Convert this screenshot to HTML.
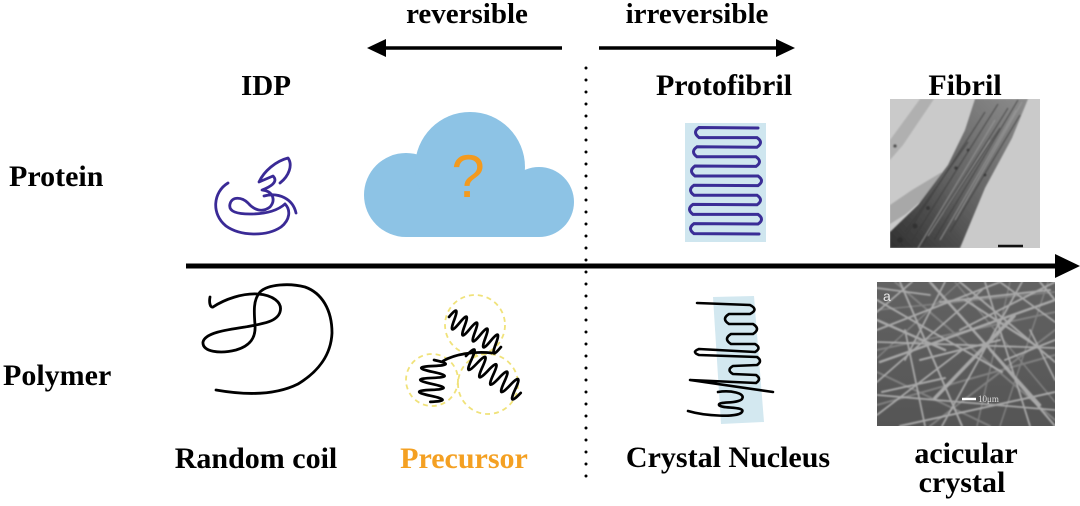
<!DOCTYPE html>
<html>
<head>
<meta charset="utf-8">
<style>
  html,body{margin:0;padding:0;background:#fff;}
  body{width:1080px;height:506px;overflow:hidden;}
  svg{display:block;}
  .t{font-family:"Liberation Serif",serif;font-weight:bold;fill:#000;}
</style>
</head>
<body>
<svg width="1080" height="506" viewBox="0 0 1080 506" xmlns="http://www.w3.org/2000/svg">
  <defs>
    <linearGradient id="fg" x1="0" y1="1" x2="1" y2="0">
      <stop offset="0" stop-color="#303030"/>
      <stop offset="0.45" stop-color="#626262"/>
      <stop offset="1" stop-color="#8c8c8c"/>
    </linearGradient>
    <linearGradient id="sg" x1="0" y1="0" x2="0" y2="1">
      <stop offset="0" stop-color="#626262"/>
      <stop offset="1" stop-color="#555555"/>
    </linearGradient>
    <filter id="soft" x="-5%" y="-5%" width="110%" height="110%">
      <feGaussianBlur stdDeviation="0.7"/>
    </filter>
    <clipPath id="semclip"><rect x="877" y="282" width="178" height="144"/></clipPath>
    <clipPath id="fibclip"><rect x="890" y="99" width="150" height="149"/></clipPath>
  </defs>
  <rect width="1080" height="506" fill="#fff"/>

  <!-- top arrows -->
  <text class="t" x="467" y="23" font-size="29" text-anchor="middle">reversible</text>
  <text class="t" x="697" y="23" font-size="29" text-anchor="middle">irreversible</text>
  <line x1="384" y1="48" x2="562" y2="48" stroke="#000" stroke-width="3.5"/>
  <polygon points="367,48 386,39 386,57" fill="#000"/>
  <line x1="599" y1="48" x2="778" y2="48" stroke="#000" stroke-width="3.5"/>
  <polygon points="795,48 776,39 776,57" fill="#000"/>

  <!-- dotted divider -->
  <line x1="586" y1="68" x2="586" y2="480" stroke="#000" stroke-width="3" stroke-linecap="round" stroke-dasharray="0 12"/>

  <!-- main axis -->
  <line x1="186" y1="266" x2="1060" y2="266" stroke="#000" stroke-width="5"/>
  <polygon points="1055,254 1080,266 1055,278" fill="#000"/>

  <!-- row labels -->
  <text class="t" x="9" y="186" font-size="30">Protein</text>
  <text class="t" x="3" y="385" font-size="30">Polymer</text>

  <!-- column labels -->
  <text class="t" x="266" y="95" font-size="29" text-anchor="middle">IDP</text>
  <text class="t" x="724" y="95" font-size="30" text-anchor="middle">Protofibril</text>
  <text class="t" x="965" y="95" font-size="30" text-anchor="middle">Fibril</text>

  <text class="t" x="256" y="468" font-size="30" text-anchor="middle">Random coil</text>
  <text class="t" x="464" y="468" font-size="30" text-anchor="middle" style="fill:#f4a022">Precursor</text>
  <text class="t" x="728" y="467" font-size="30" text-anchor="middle">Crystal Nucleus</text>
  <text class="t" x="966" y="463" font-size="30" text-anchor="middle">acicular</text>
  <text class="t" x="962" y="492" font-size="30" text-anchor="middle">crystal</text>

  <!-- IDP squiggle -->
  <g fill="none" stroke="#3a2a96" stroke-width="2.8" stroke-linecap="round" stroke-linejoin="round">
    <path d="M228,183 C213,192 211,214 226,226 C240,236 266,237 281,227 C290,220 291,210 285,204"/>
    <path d="M285,204 C276,212 262,214 250,214 C238,214 228,212 230,204 C232,196 242,197 248,203 C254,210 262,213 270,207 C276,200 273,191 262,190 C270,187 279,182 273,176 L259,182 C264,171 276,161 288,158 C293,165 289,176 280,183"/>
    <path d="M264,196 C279,192 293,199 296,213"/>
  </g>

  <!-- cloud -->
  <g fill="#8dc3e5">
    <circle cx="406" cy="195" r="42"/>
    <circle cx="470" cy="167" r="55"/>
    <circle cx="539" cy="202" r="35"/>
    <rect x="406" y="190" width="133" height="47"/>
    <rect x="420" y="160" width="100" height="60"/>
  </g>
  <text x="468" y="197" font-family="Liberation Sans, sans-serif" font-size="60" fill="#f39a1e" text-anchor="middle">?</text>

  <!-- protofibril -->
  <rect x="685" y="123" width="81" height="119" fill="#cfe6ef"/>
  <path fill="none" stroke="#3a2d96" stroke-width="3" stroke-linecap="round"
    d="M758,128 L699,127.5 Q692,132.3 699,137.6 L757,137.6 Q764,142.4 757,147.2 L697,146.8 Q690,151.6 697,156.8 L756,156.8 Q763,161.6 756,166.4 L695,166 Q688,171 695,176 L758,176 Q765,180.8 758,185.6 L694,185.2 Q687,190 694,195.2 L757,195.2 Q764,200 757,204.8 L693,204.4 Q686,209.2 693,214.4 L758,214.4 Q765,219.2 758,224 L694,223.6 Q687,228.6 694,233.6 L759,234"/>

  <!-- fibril micrograph -->
  <rect x="890" y="99" width="150" height="149" fill="#cacaca"/>
  <g clip-path="url(#fibclip)" filter="url(#soft)">
    <polygon points="890,140 920,99 934,99 903,145 890,160" fill="#b0b0b0"/>
    <polygon points="890,205 912,190 942,172 936,188 906,214 890,224" fill="#a8a8a8"/>
    <polygon points="975,99 1028,99 1012,138 985,188 960,248 890,248 890,232 918,205 948,165 965,130" fill="url(#fg)"/>
    <g stroke="#3a3a3a" stroke-width="1.4" fill="none" opacity="0.6">
      <line x1="898" y1="248" x2="985" y2="112"/>
      <line x1="910" y1="244" x2="998" y2="104"/>
      <line x1="922" y1="246" x2="1008" y2="108"/>
      <line x1="934" y1="240" x2="1018" y2="100"/>
      <line x1="905" y1="232" x2="968" y2="142"/>
      <line x1="944" y1="212" x2="1000" y2="128"/>
      <line x1="950" y1="232" x2="1020" y2="115"/>
    </g>
    <g stroke="#a0a0a0" stroke-width="1" fill="none" opacity="0.7">
      <line x1="918" y1="248" x2="995" y2="120"/>
      <line x1="940" y1="240" x2="1016" y2="110"/>
      <line x1="928" y1="236" x2="990" y2="140"/>
      <line x1="955" y1="220" x2="1022" y2="102"/>
    </g>
    <g fill="#2a2a2a" opacity="0.7">
      <circle cx="928" cy="208" r="2"/>
      <circle cx="915" cy="226" r="2.5"/>
      <circle cx="956" cy="168" r="1.8"/>
      <circle cx="968" cy="150" r="1.5"/>
      <circle cx="900" cy="240" r="3"/>
      <circle cx="895" cy="146" r="1.8"/>
      <circle cx="985" cy="175" r="1.5"/>
    </g>
  </g>
  <line x1="998" y1="246" x2="1023" y2="246" stroke="#111" stroke-width="2.5"/>

  <!-- random coil -->
  <path fill="none" stroke="#000" stroke-width="2.8" stroke-linecap="round" stroke-linejoin="round"
    d="M210,297 C209,302 210,308 213,307 C225,299 243,293 258,294 C272,295 283,302 280,312 C277,322 262,324 245,327 C225,330 205,333 203,342 C202,352 220,354 236,350 C250,346 256,338 255,325 C254,312 253,300 260,292 C268,284 290,283 305,287 C322,293 332,310 332,333 C331,355 318,372 298,384 C278,394 250,396 216,390"/>

  <!-- precursor circles -->
  <g fill="none" stroke="#f0e27a" stroke-width="1.8" stroke-dasharray="5 4">
    <circle cx="475" cy="325" r="30"/>
    <circle cx="432" cy="380" r="26"/>
    <circle cx="488" cy="384" r="30"/>
  </g>
  <!-- precursor coils -->
  <g fill="none" stroke="#000" stroke-width="2.7" stroke-linecap="round" stroke-linejoin="round">
    <path transform="translate(449,317) rotate(30)"
      d="M0,0 Q3,-18 6,0 T12,0 T18,0 T24,0 T30,0 T36,0 T42,0 T48,0 T54,0 T60,0"/>
    <path transform="translate(466,356) rotate(34)"
      d="M0,0 Q3.3,-20 6.6,0 T13.2,0 T19.8,0 T26.4,0 T33,0 T39.6,0 T46.2,0 T52.8,0 T59.4,0 T66,0"/>
    <path transform="translate(434,360) rotate(95)"
      d="M0,0 Q3,-24 6,0 T12,0 T18,0 T24,0 T30,0 T36,0 T42,0"/>
    <path d="M443,361 C455,354 475,351 492,353"/>
  </g>

  <!-- crystal nucleus -->
  <polygon points="713,297 754,296 764,422 721,424" fill="#d3e8f0"/>
  <path fill="none" stroke="#000" stroke-width="2.6" stroke-linecap="round" stroke-linejoin="round"
    d="M697,303 L750,305 Q759,309.5 750,314 L729,314 Q721,319 729,324 L753,324 Q761,329 753,334 L731,334 Q723,339 731,344 L755,344 Q762,348 755,352 L699,349 Q691,352 699,355 L757,357 Q763,361 757,365 L733,366 Q726,370 733,374 L756,375 Q762,379 756,383 L690,380 L773,392"/>
  <path fill="none" stroke="#000" stroke-width="2.6" stroke-linecap="round" stroke-linejoin="round"
    d="M718,392 C730,390 746,393 742,399 C738,404 718,401 719,405 C721,409 746,406 742,412 C738,418 705,416 688,411"/>

  <!-- SEM micrograph -->
  <rect x="877" y="282" width="178" height="144" fill="url(#sg)"/>
  <g clip-path="url(#semclip)" filter="url(#soft)">
    <g stroke="#8a8a8a" fill="none" stroke-linecap="round" opacity="0.8">
      <line x1="877" y1="350" x2="1055" y2="312" stroke-width="2"/>
      <line x1="895" y1="282" x2="1055" y2="420" stroke-width="2"/>
      <line x1="877" y1="372" x2="990" y2="426" stroke-width="2"/>
      <line x1="1010" y1="282" x2="977" y2="426" stroke-width="1.5"/>
      <line x1="877" y1="405" x2="1055" y2="355" stroke-width="2"/>
      <line x1="955" y1="282" x2="1055" y2="402" stroke-width="1.5"/>
      <line x1="877" y1="310" x2="1055" y2="292" stroke-width="1.5"/>
      <line x1="930" y1="426" x2="1055" y2="330" stroke-width="2"/>
      <line x1="877" y1="358" x2="960" y2="282" stroke-width="1.5"/>
      <line x1="1048" y1="282" x2="1000" y2="426" stroke-width="1.5"/>
    </g>
    <g stroke="#b0b0b0" fill="none" stroke-linecap="round" opacity="0.9">
      <line x1="877" y1="330" x2="1000" y2="282" stroke-width="2"/>
      <line x1="880" y1="362" x2="1055" y2="300" stroke-width="2.5"/>
      <line x1="900" y1="282" x2="962" y2="426" stroke-width="2"/>
      <line x1="930" y1="282" x2="1040" y2="405" stroke-width="2.5"/>
      <line x1="935" y1="398" x2="1014" y2="316" stroke-width="3.5"/>
      <line x1="877" y1="382" x2="982" y2="290" stroke-width="1.8"/>
      <line x1="960" y1="282" x2="1055" y2="362" stroke-width="2"/>
      <line x1="877" y1="300" x2="1002" y2="372" stroke-width="2"/>
      <line x1="900" y1="426" x2="1055" y2="392" stroke-width="2"/>
      <line x1="1000" y1="282" x2="1055" y2="322" stroke-width="1.8"/>
      <line x1="877" y1="415" x2="962" y2="350" stroke-width="1.8"/>
      <line x1="990" y1="350" x2="1055" y2="426" stroke-width="2"/>
      <line x1="912" y1="282" x2="877" y2="312" stroke-width="1.8"/>
      <line x1="1022" y1="282" x2="942" y2="426" stroke-width="1.8"/>
      <line x1="877" y1="342" x2="1055" y2="348" stroke-width="1.8"/>
      <line x1="940" y1="302" x2="1050" y2="290" stroke-width="2"/>
      <line x1="877" y1="320" x2="945" y2="350" stroke-width="2.5"/>
      <line x1="960" y1="330" x2="1055" y2="282" stroke-width="2"/>
      <line x1="985" y1="282" x2="1030" y2="426" stroke-width="1.8"/>
      <line x1="877" y1="395" x2="1055" y2="410" stroke-width="1.8"/>
      <line x1="905" y1="330" x2="925" y2="426" stroke-width="1.8"/>
      <line x1="1040" y1="282" x2="1055" y2="300" stroke-width="2"/>
      <line x1="920" y1="360" x2="1000" y2="340" stroke-width="2"/>
      <line x1="1005" y1="360" x2="1055" y2="340" stroke-width="2"/>
      <line x1="877" y1="288" x2="930" y2="295" stroke-width="1.8"/>
      <line x1="945" y1="282" x2="905" y2="360" stroke-width="1.8"/>
      <line x1="1030" y1="330" x2="1055" y2="380" stroke-width="1.8"/>
      <line x1="965" y1="300" x2="1035" y2="345" stroke-width="2.2"/>
      <line x1="882" y1="392" x2="945" y2="378" stroke-width="2"/>
    </g>
  </g>
  <text x="883" y="301" font-family="Liberation Sans, sans-serif" font-size="14" fill="#e8e8e8">a</text>
  <line x1="962" y1="399" x2="976" y2="399" stroke="#fff" stroke-width="2.5"/>
  <text x="978" y="402" font-family="Liberation Serif, serif" font-size="9" fill="#dddddd">10μm</text>
</svg>
</body>
</html>
